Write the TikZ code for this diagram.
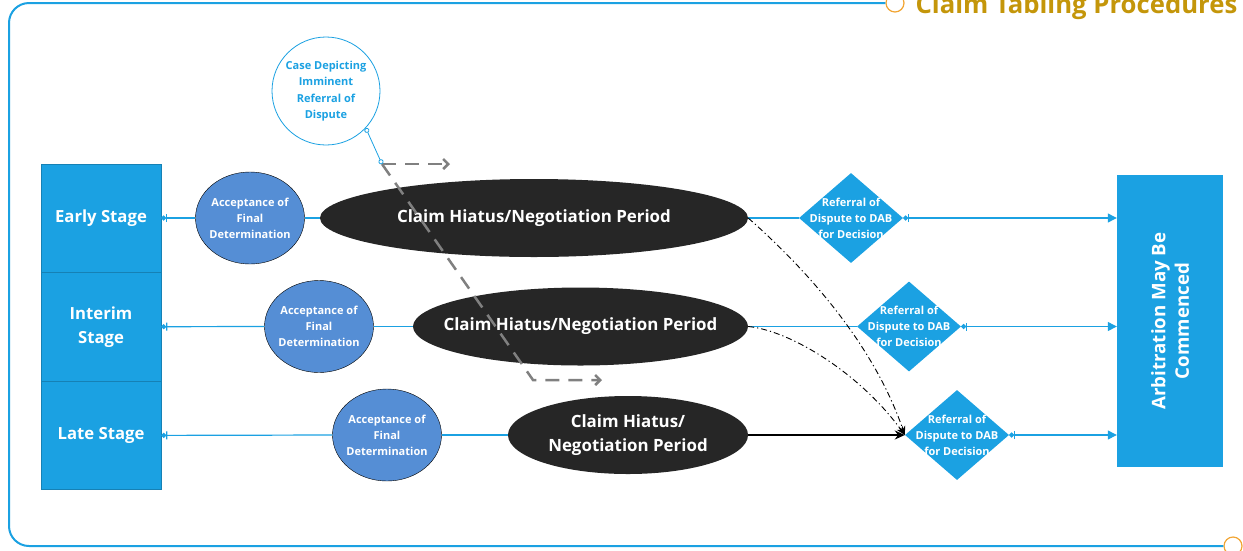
\documentclass[tikz,border=0pt]{standalone}
\usepackage{fontspec}
\setmainfont{Open Sans}
\usetikzlibrary{positioning,calc,shapes.geometric,arrows.meta}
\definecolor{mblue}{HTML}{1BA1E2}
\definecolor{accblue}{HTML}{558ED5}
\definecolor{hiatusgray}{HTML}{262626}
\definecolor{titlegold}{HTML}{C4960A}
\definecolor{tabring}{HTML}{F2A533}

\begin{document}
\begin{tikzpicture}[x=1pt, y=-1pt,
		stage/.style={rectangle, fill=mblue, draw=mblue!80!black, minimum width=120pt, minimum height=108.3pt, inner sep=0pt, align=center, text=white, font=\fontsize{16.7}{24}\selectfont\bfseries},
		accept/.style={ellipse, fill=accblue, draw=black, minimum width=109pt, minimum height=92pt, inner xsep=-12pt, inner ysep=0pt, align=center, text=white, font=\fontsize{11}{16}\selectfont\bfseries},
		hiatus/.style={ellipse, fill=hiatusgray, minimum height=78pt, inner xsep=-50pt, inner ysep=0pt, align=center, text=white, font=\fontsize{16.9}{24}\selectfont\bfseries},
		dab/.style={diamond, fill=mblue, minimum width=104pt, minimum height=90pt, inner xsep=-30pt, inner ysep=-20pt, align=center, text=white, font=\fontsize{11}{16}\selectfont\bfseries},
		rowline/.style={draw=mblue, line width=1.2pt},
		endmark/.style={{Circle[length=5pt]Bar[width=8pt]}-},
		tabring/.style={circle, draw=tabring, fill=white, line width=1.2pt, minimum size=18pt, inner sep=0pt}
	]
	\useasboundingbox (0,0) rectangle (1243,550);

	\node[tabring] (tabtop) at (895,3) {};
	\node[tabring] (tabbot) at (1233,546) {};
	\draw[mblue, line width=2pt, rounded corners=20pt] (tabtop.west) -- (9,3) -- (9,546) -- (tabbot.west);
	\node[anchor=base west, text=titlegold, font=\fontsize{25.7}{30}\selectfont\bfseries] (title) at (912,13) {Claim Tabling Procedures};

	\node[stage] (early) at (101,218) {Early Stage};
	\node[stage, below=0pt of early] (interim) {Interim\\Stage};
	\node[stage, below=0pt of interim] (late) {Late Stage};

	\node[accept] (acc1) at (250,218) {Acceptance of\\Final\\Determination};
	\node[accept] (acc2) at (319,326.5) {Acceptance of\\Final\\Determination};
	\node[accept] (acc3) at (387,435) {Acceptance of\\Final\\Determination};

	\node[hiatus, minimum width=428pt] (hiatus1) at (534,218) {Claim Hiatus/Negotiation Period};
	\node[hiatus, minimum width=335pt] (hiatus2) at (580.5,326.5) {Claim Hiatus/Negotiation Period};
	\node[hiatus, minimum width=240pt] (hiatus3) at (628,435) {Claim Hiatus/\\Negotiation Period};

	\node[dab] (dab1) at (851,218) {Referral of\\Dispute to DAB\\for Decision};
	\node[dab] (dab2) at (909,326.5) {Referral of\\Dispute to DAB\\for Decision};
	\node[dab] (dab3) at (957,435) {Referral of\\Dispute to DAB\\for Decision};

	\node[rectangle, rotate=90, fill=mblue, minimum width=292pt, minimum height=106pt, inner sep=0pt, align=center, text=white, font=\fontsize{18.7}{23.5}\selectfont\bfseries] (arb) at (1170,321) {Arbitration May Be\\Commenced};

	\node[circle, draw=mblue, fill=white, line width=0.8pt, minimum size=108pt, inner sep=0pt, align=center, text=mblue, font=\fontsize{11}{16.5}\selectfont\bfseries] (case) at (326,91) {Case Depicting\\Imminent\\Referral of\\Dispute};

	\foreach \row in {1,2,3}{
		\draw[rowline] (acc\row.east) -- (hiatus\row.west);
	}
	\draw[rowline, endmark] (early.east) -- (acc1.west);
	\draw[rowline, endmark] (interim.east) -- (acc2.west);
	\draw[rowline, endmark] (late.east) -- (acc3.west);

	\draw[rowline] (hiatus1.east) -- (dab1.west);
	\draw[rowline] (hiatus2.east) -- (dab2.west);
	\draw[line width=2pt, -{Stealth[length=10pt,width=9pt]}] (hiatus3.east) -- (dab3.west);

	\foreach \row in {1,2,3}{
		\draw[rowline, {Circle[length=5pt]Bar[width=8pt]}-{Triangle[length=9pt,width=9pt]}] (dab\row.east) -- (dab\row.east -| arb.north);
	}

	\draw[line width=0.9pt, dash pattern=on 6pt off 3pt on 1.2pt off 3pt, -{Stealth[length=9pt,width=7pt]}] (hiatus1.east) .. controls +(42,37) and +(-35,-102) .. (dab3.west);
	\draw[line width=0.9pt, dash pattern=on 6pt off 3pt on 1.2pt off 3pt, -{Stealth[length=9pt,width=7pt]}] (hiatus2.east) .. controls +(42,4) and +(-45,-62) .. (dab3.west);

	\coordinate (pin) at (382,164);
	\coordinate (pinA) at (450,164);
	\coordinate (bend) at (533,380);
	\coordinate (pinB) at (602,380);
	\draw[gray, line width=2.5pt, dash pattern=on 14pt off 9pt, -{Straight Barb[length=5pt,width=10pt]}] (pin) -- (pinA);
	\draw[gray, line width=2.5pt, dash pattern=on 14pt off 9pt, -{Straight Barb[length=5pt,width=10pt]}] (pin) -- (bend) -- (pinB);
	\draw[mblue, line width=0.8pt, {Circle[open,fill=white,length=5pt]}-{Circle[open,fill=white,length=5pt]}] (case.-43) -- (pin);
\end{tikzpicture}
\end{document}
